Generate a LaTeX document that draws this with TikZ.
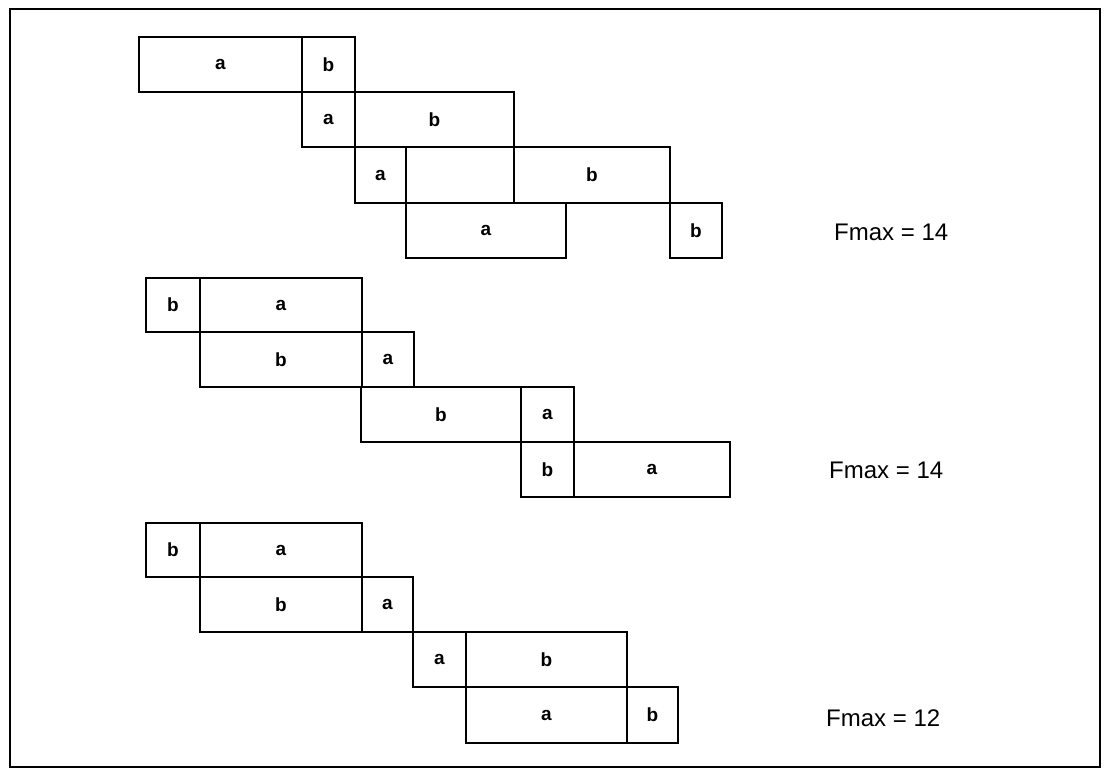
\documentclass[tikz,border=0pt]{standalone}
\usepackage{fontspec}
\setmainfont{Liberation Sans}
% one rectangular cell spanning [x1,x2] x [y1,y2], with its letter centred
\newcommand{\cellbox}[6]{%
  \node[cell, minimum width={#4-#2}, minimum height={#5-#3}]
    (#1) at ({(#2+#4)/2},{(#3+#5)/2}) {#6};}
\begin{document}
\begin{tikzpicture}[x=1pt, y=-1pt,
    cell/.style={draw, line width=1.3pt, inner sep=0pt, outer sep=0pt,
      font=\fontsize{19}{21}\selectfont\bfseries},
    fmaxlabel/.style={anchor=west, inner sep=0pt,
      font=\fontsize{24}{28}\selectfont},
    frame/.style={draw, line width=2.6pt}]
  % page and outer frame
  \fill[white] (0,0) rectangle (1104,774);
  \useasboundingbox (0,0) rectangle (1104,774);
  \draw[frame] (10,9) rectangle (1100,767);

  % first schedule
  \cellbox{p1a}{139}{37}{302}{92}{a}
  \cellbox{p1b}{302}{37}{355}{92}{b}
  \cellbox{p2a}{302}{92}{355}{147}{a}
  \cellbox{p2b}{355}{92}{514}{147}{b}
  \cellbox{p3a}{355}{147}{406}{203}{a}
  \cellbox{p3g}{406}{147}{514}{203}{}
  \cellbox{p3b}{514}{147}{670}{203}{b}
  \cellbox{p4a}{406}{203}{566}{258}{a}
  \cellbox{p4b}{670}{203}{722}{258}{b}
  \node[fmaxlabel] (f1) at (834,232) {Fmax = 14};

  % second schedule
  \cellbox{q1b}{146}{278}{200}{332}{b}
  \cellbox{q1a}{200}{278}{362}{332}{a}
  \cellbox{q2b}{200}{332}{362}{387}{b}
  \cellbox{q2a}{362}{332}{414}{387}{a}
  \cellbox{q3b}{361}{387}{521}{442}{b}
  \cellbox{q3a}{521}{387}{574}{442}{a}
  \cellbox{q4b}{521}{442}{574}{497}{b}
  \cellbox{q4a}{574}{442}{730}{497}{a}
  \node[fmaxlabel] (f2) at (829,470) {Fmax = 14};

  % third schedule
  \cellbox{r1b}{146}{523}{200}{577}{b}
  \cellbox{r1a}{200}{523}{362}{577}{a}
  \cellbox{r2b}{200}{577}{362}{632}{b}
  \cellbox{r2a}{362}{577}{413}{632}{a}
  \cellbox{r3a}{413}{632}{466}{687}{a}
  \cellbox{r3b}{466}{632}{627}{687}{b}
  \cellbox{r4a}{466}{687}{627}{743}{a}
  \cellbox{r4b}{627}{687}{678}{743}{b}
  \node[fmaxlabel] (f3) at (826,718) {Fmax = 12};
\end{tikzpicture}
\end{document}
